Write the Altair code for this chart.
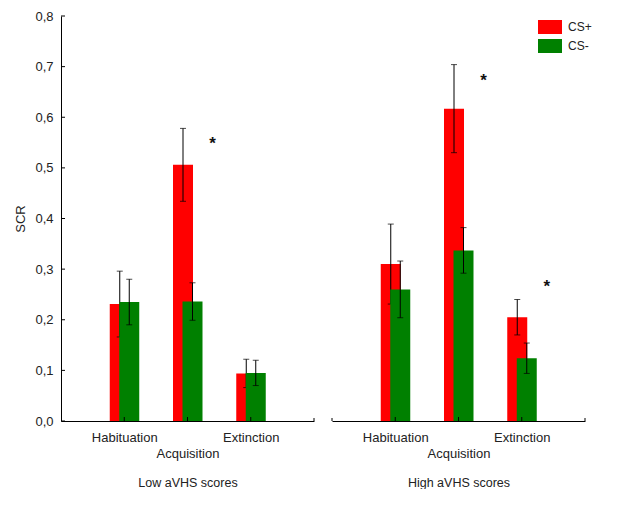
import altair as alt
import pandas as pd

phases = ["Habituation", "Acquisition", "Extinction"]
groups = ["Low aVHS scores", "High aVHS scores"]
conds = ["CS+", "CS-"]
colors = ["#ff0000", "#008000"]

low_csp = [0.231, 0.506, 0.094]
low_csp_err = [0.065, 0.072, 0.028]
low_csm = [0.235, 0.236, 0.095]
low_csm_err = [0.045, 0.037, 0.025]
high_csp = [0.310, 0.617, 0.205]
high_csp_err = [0.079, 0.087, 0.035]
high_csm = [0.260, 0.337, 0.124]
high_csm_err = [0.056, 0.045, 0.030]

star_group = ["Low aVHS scores", "High aVHS scores", "High aVHS scores"]
star_phase = ["Acquisition", "Acquisition", "Extinction"]
star_y = [0.557, 0.681, 0.275]

y_ticks = [0.0, 0.1, 0.2, 0.3, 0.4, 0.5, 0.6, 0.7, 0.8]

rows = []
series = {
    ("Low aVHS scores", "CS+"): (low_csp, low_csp_err),
    ("Low aVHS scores", "CS-"): (low_csm, low_csm_err),
    ("High aVHS scores", "CS+"): (high_csp, high_csp_err),
    ("High aVHS scores", "CS-"): (high_csm, high_csm_err),
}
for (g, c), (means, errs) in series.items():
    for p, m, e in zip(phases, means, errs):
        rows.append({"group": g, "phase": p, "cond": c, "mean": m,
                     "lo": m - e, "hi": m + e})
df = pd.DataFrame(rows)
stars = pd.DataFrame({"group": star_group, "phase": star_phase, "v": star_y})

FONT = "Liberation Sans"
TXT = "#222222"
W, H = 253, 405
offsets = {"CS+": -4.5, "CS-": 5}


def panel(g, first):
    yscale = alt.Scale(domain=[0, 0.8], nice=False, zero=True)
    if first:
        yaxis = alt.Axis(values=y_ticks, labelExpr="replace(format(datum.value, '.1f'), '.', ',')",
                         ticks=False, grid=False, domainColor="black", labelPadding=8,
                         labelFontSize=13, titleFontSize=13, titleFontWeight="normal",
                         titlePadding=7, labelFont=FONT, titleFont=FONT,
                         labelColor=TXT, titleColor=TXT)
    else:
        yaxis = None
    xaxis = alt.Axis(title=g, titleFontSize=12.5, titleFontWeight="normal", titlePadding=16,
                     labelFontSize=13, labelPadding=10, labelLineHeight=16,
                     labelExpr="datum.value == 'Acquisition' ? ['', 'Acquisition'] : datum.value",
                     labelAngle=0, labelOverlap=False, ticks=False, grid=False,
                     domainColor="black", labelFont=FONT, titleFont=FONT,
                     labelColor=TXT, titleColor=TXT)

    def xe():
        return alt.X("phase:N", scale=alt.Scale(type="point", domain=phases, padding=1),
                     axis=xaxis, title=g)

    def ye(field):
        return alt.Y(field, scale=yscale, axis=yaxis, title="SCR")

    d = df[df.group == g]
    layers = []
    for c, col in zip(conds, colors):
        dc = d[d.cond == c]
        base = alt.Chart(dc)
        if first:
            legend = None
        else:
            legend = alt.Legend(title=None, orient="none", legendX=206, legendY=-1,
                                symbolType="M-1,-0.583H1V0.583H-1Z", symbolSize=576,
                                symbolStrokeWidth=0, symbolOpacity=1, labelFontSize=12,
                                labelFont=FONT, labelColor=TXT, labelOffset=6, padding=0,
                                rowPadding=-2)
        bars = base.mark_bar(size=20, xOffset=offsets[c], opacity=1).encode(
            x=xe(), y=ye("mean:Q"),
            color=alt.Color("cond:N", scale=alt.Scale(domain=conds, range=colors), legend=legend),
        )
        err = base.mark_rule(xOffset=offsets[c], color="black", strokeWidth=1).encode(
            x=xe(), y=ye("lo:Q"), y2="hi:Q")
        caps = base.transform_fold(["lo", "hi"], as_=["k", "cv"]).mark_tick(
            orient="horizontal", size=6, thickness=1, xOffset=offsets[c], color="black").encode(
            x=xe(), y=ye("cv:Q"))
        layers += [bars, err, caps]

    ds = stars[stars.group == g]
    if len(ds):
        layers.append(alt.Chart(ds).mark_text(text="*", fontSize=17, fontWeight="bold",
                                              dx=25, dy=5, baseline="middle", color="#111",
                                              font=FONT).encode(x=xe(), y=ye("v:Q")))

    xt = alt.Chart(pd.DataFrame({"phase": phases})).mark_rule(color="black").encode(
        x=xe(), y=alt.value(H), y2=alt.value(H - 4))
    layers.append(xt)
    caps_end = [W] if first else [0, W]
    for cx in caps_end:
        layers.append(alt.Chart(pd.DataFrame({"phase": [phases[0]]})).mark_rule(color="black").encode(
            x=alt.value(cx), y=alt.value(H), y2=alt.value(H - 3)))
    if first:
        yt = alt.Chart(pd.DataFrame({"v": y_ticks})).mark_rule(color="black").encode(
            y=ye("v:Q"), x=alt.value(0), x2=alt.value(4))
        layers.append(yt)
    return alt.layer(*layers).properties(width=W, height=H)


left = panel(groups[0], True)
right = panel(groups[1], False)

chart = alt.hconcat(left, right, spacing=16).resolve_scale(color="independent").properties(
    padding={"left": 6, "top": 2, "right": 0, "bottom": 0}
).configure_view(stroke=None)

chart.save("out.html", embed_options={"renderer": "svg", "actions": False})
